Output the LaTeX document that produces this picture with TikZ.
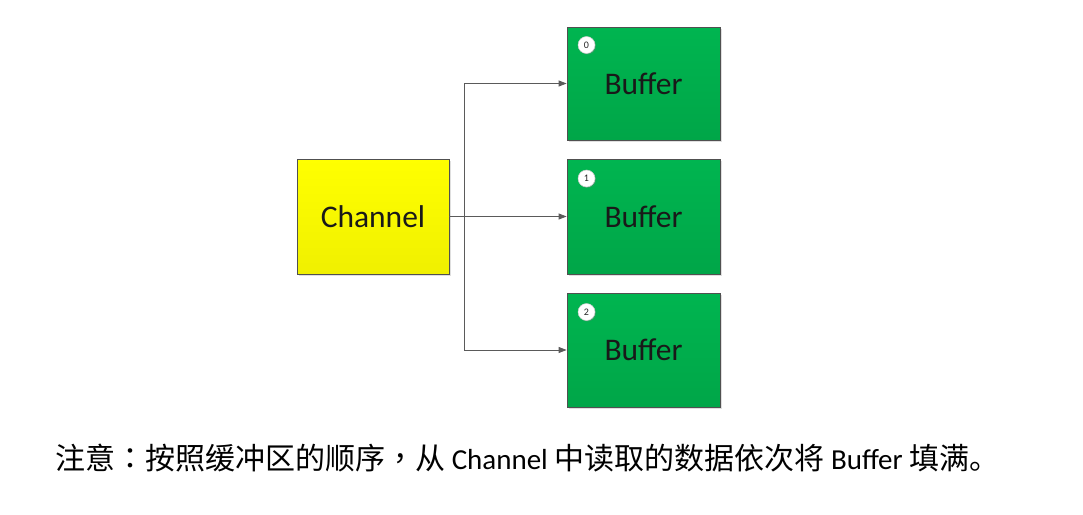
\documentclass[tikz,border=0pt]{standalone}
\usepackage{fontspec}
\setmainfont{Carlito}
\newfontfamily\cjk{Noto Sans CJK SC}
\newfontfamily\cjktc{Noto Sans CJK TC}
\usetikzlibrary{arrows.meta,shadows}
\definecolor{bordergray}{HTML}{505050}
\definecolor{linegray}{HTML}{5A5A5A}
\definecolor{gtop}{HTML}{00B550}
\definecolor{gbot}{HTML}{00A648}
\definecolor{ytop}{HTML}{FFFF00}
\definecolor{ybot}{HTML}{F0F000}
\tikzset{
  box/.style={draw=bordergray, line width=0.8pt, inner sep=0pt, minimum width=153pt,
    font=\fontsize{31.5}{36}\selectfont, text=black!90,
    drop shadow={opacity=0.25, shadow xshift=2pt, shadow yshift=-2pt}},
  chanbox/.style={box, top color=ytop, bottom color=ybot, minimum height=115pt, minimum width=152pt},
  bufbox/.style={box, top color=gtop, bottom color=gbot},
  badge/.style={circle, fill=white, draw=black!20, line width=0.5pt, minimum size=17pt, inner sep=0pt,
    font=\fontsize{10}{10}\selectfont, text=black!85,
    drop shadow={opacity=0.3, shadow xshift=1pt, shadow yshift=-1pt}},
  conn/.style={draw=linegray, line width=0.8pt, -{Triangle[length=8pt,width=6pt]}},
  plain/.style={draw=linegray, line width=0.8pt}
}
\newcommand{\cj}[1]{{\fontsize{30}{34}\selectfont\cjk #1}}
\newcommand{\cjp}[1]{{\fontsize{30}{34}\selectfont\cjktc #1}}
\begin{document}
\begin{tikzpicture}[x=1pt,y=-1pt]
\useasboundingbox (0,0) rectangle (1083,514);
\node[chanbox] (ch) at (373,216.5) {Channel};
\node[bufbox, minimum height=113pt] (b0) at (643.5,83.5) {Buffer};
\node[bufbox, minimum height=115pt] (b1) at (643.5,216.5) {Buffer};
\node[bufbox, minimum height=114pt] (b2) at (643.5,350) {Buffer};
\node[badge] (n0) at (586.5,45) {0};
\node[badge] (n1) at (586.5,178.5) {1};
\node[badge] (n2) at (586.5,312) {2};
\coordinate (j) at (464,216.5);
\draw[conn] (ch.east) -- (b1.west);
\draw[conn] (j) |- (b0.west);
\draw[conn] (j) |- (b2.west);
\node[anchor=west, inner sep=0pt, font=\fontsize{29}{34}\selectfont, text=black] (cap) at (55,458)
  {\cj{注意}\cjp{：}\cj{按照缓冲区的顺序}\cjp{，}\cj{从} Channel \cj{中读取的数据依次将} Buffer \cj{填满。}};
\end{tikzpicture}
\end{document}
